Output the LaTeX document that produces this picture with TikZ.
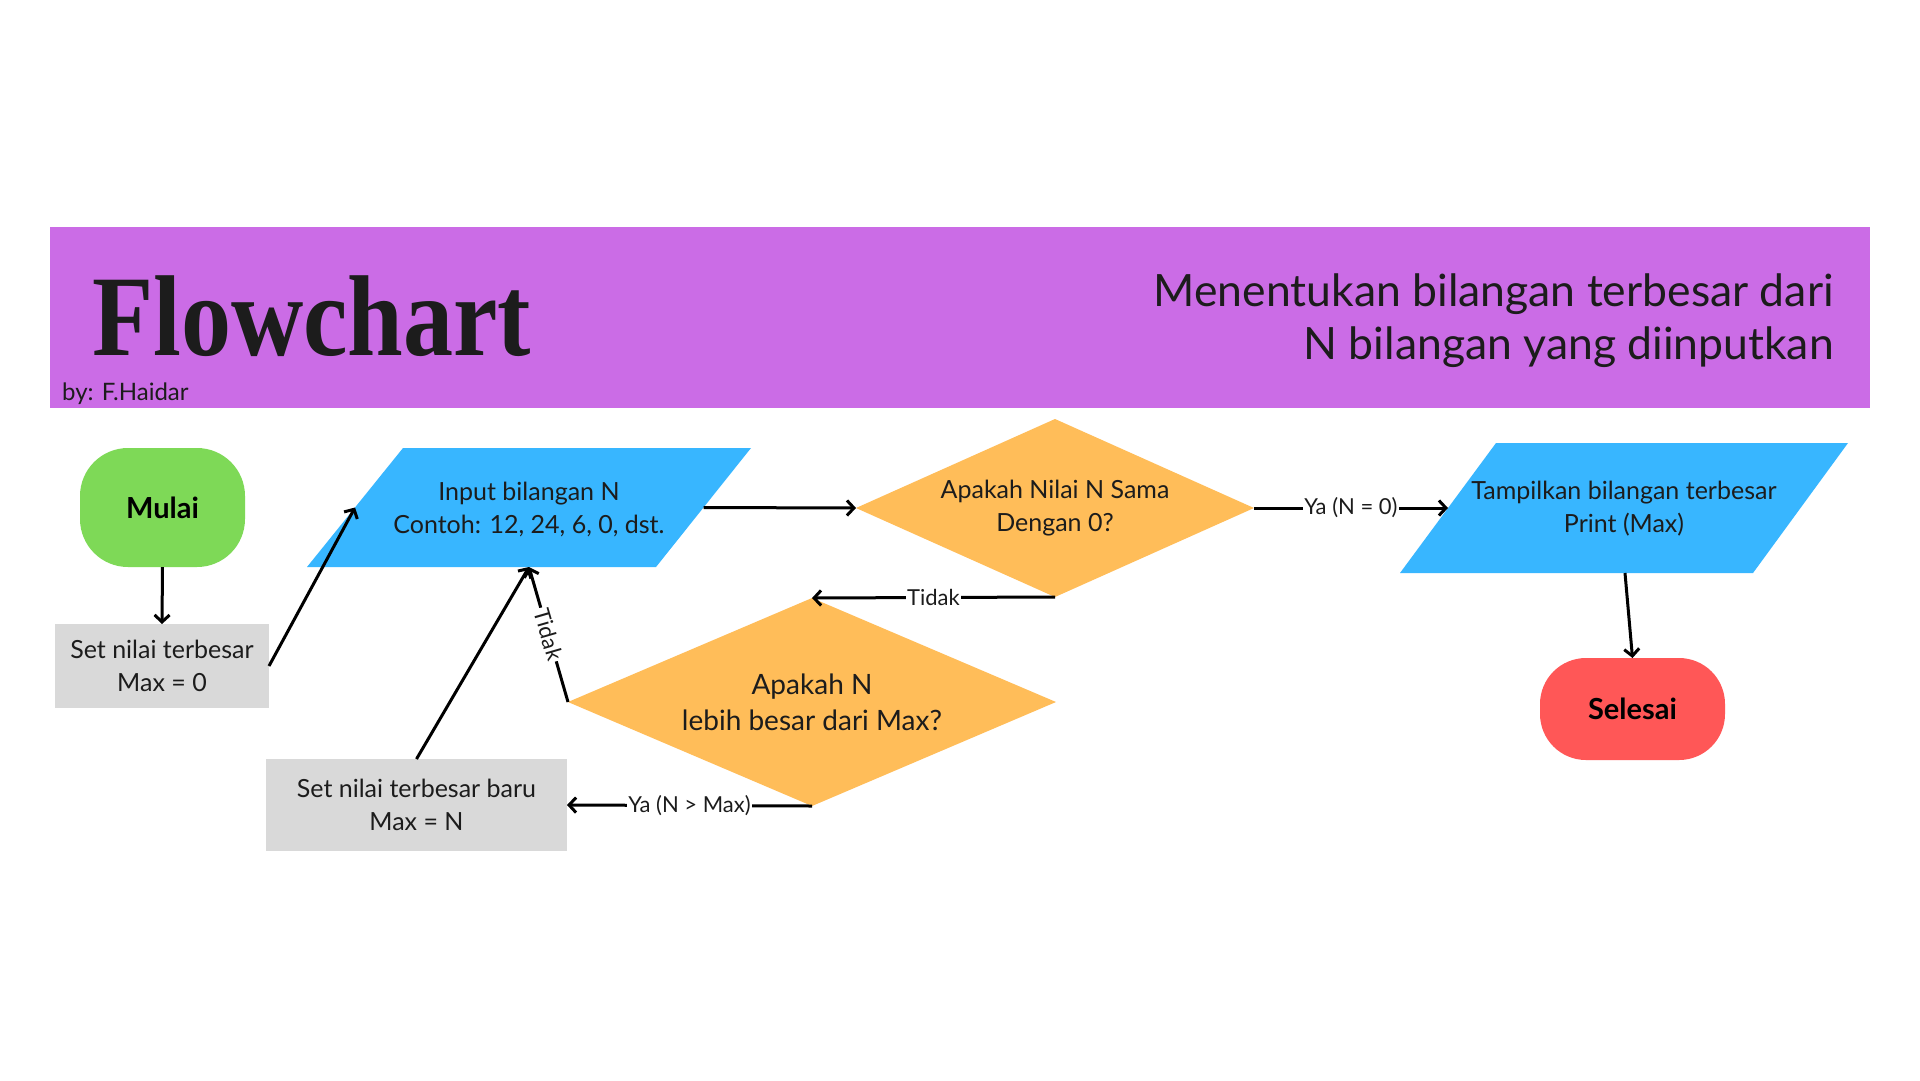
\documentclass[tikz,border=0pt]{standalone}
\usepackage{fontspec}
\usepackage{graphicx}
\setmainfont{Lato}
\newfontfamily\titlefont{Liberation Serif}
\usetikzlibrary{arrows.meta,shapes.geometric}
\definecolor{bannerc}{HTML}{CB6CE6}
\definecolor{greenc}{HTML}{7ED957}
\definecolor{bluec}{HTML}{38B6FF}
\definecolor{orangec}{HTML}{FFBD59}
\definecolor{redc}{HTML}{FF5757}
\definecolor{grayc}{HTML}{D9D9D9}
\definecolor{inkc}{HTML}{1C1C1C}
\begin{document}
\begin{tikzpicture}[x=1pt,y=-1pt,
  body/.style={font=\fontsize{25}{33}\selectfont, text=inkc, align=center},
  conn/.style={line width=3pt, draw=black, -{Straight Barb[length=7pt,width=15pt]}},
  lbl/.style={fill=white, inner sep=1.5pt, font=\fontsize{22}{26}\selectfont, text=inkc},
  term/.style={rectangle, rounded corners=48pt, inner sep=0pt, outer sep=0pt, font=\fontsize{29}{32}\selectfont\bfseries, text=black},
  procbox/.style={rectangle, fill=grayc, inner sep=0pt, outer sep=0pt, body},
  decision/.style={diamond, fill=orangec, inner sep=0pt, outer sep=0pt, body}
]
\useasboundingbox (0,0) rectangle (1920,1080);
\fill[white] (0,0) rectangle (1920,1080);

% banner
\fill[bannerc] (50,227) rectangle (1870,408);
\node[anchor=base west, inner sep=0pt, text=inkc] (title) at (92,355)
  {\scalebox{0.87}[1]{\fontsize{115}{120}\selectfont\titlefont\bfseries Flowchart}};
\node[anchor=west, inner sep=0pt, text=inkc, font=\fontsize{24}{28}\selectfont] (author) at (62,394) {by: F.Haidar};
\node[anchor=base east, inner sep=0pt, text=inkc, font=\fontsize{44.5}{52}\selectfont] (sub1) at (1834,306) {Menentukan bilangan terbesar dari};
\node[anchor=base east, inner sep=0pt, text=inkc, font=\fontsize{44.5}{52}\selectfont] (sub2) at (1834,359) {N bilangan yang diinputkan};

% start
\node[term, fill=greenc, minimum width=165pt, minimum height=119pt] (mulai) at (162.5,507.5) {Mulai};
% set max = 0
\node[procbox, minimum width=214pt, minimum height=84pt] (set0) at (162,666) {Set nilai terbesar\\Max = 0};

% input parallelogram
\fill[bluec] (403,448) -- (751,448) -- (656,567) -- (307,567) -- cycle;
\node[body] (input) at (529,509) {Input bilangan N\\Contoh: 12, 24, 6, 0, dst.};
\coordinate (inL) at (355,507.5);
\coordinate (inR) at (703.5,507.5);
\coordinate (inB) at (529,567);

% decision 1
\node[decision, shape aspect=2.24, minimum width=398pt, minimum height=178pt] (d1) at (1055,508) {Apakah Nilai N Sama\\Dengan 0?};

% output parallelogram
\fill[bluec] (1496,443) -- (1848,443) -- (1753,573) -- (1400,573) -- cycle;
\node[body] (output) at (1624,509) {Tampilkan bilangan terbesar\\Print (Max)};
\coordinate (outL) at (1448,508);
\coordinate (outB) at (1625,573);

% end
\node[term, fill=redc, minimum width=185pt, minimum height=102pt, rounded corners=46pt] (selesai) at (1632.5,709) {Selesai};

% decision 2
\node[decision, shape aspect=2.35, minimum width=488pt, minimum height=208pt, font=\fontsize{28}{36}\selectfont] (d2) at (812,702) {Apakah N\\lebih besar dari Max?};

% set max = N
\node[procbox, minimum width=301pt, minimum height=92pt] (setn) at (416.5,805) {Set nilai terbesar baru\\Max = N};

% connectors
\draw[conn] (mulai.south) -- (set0.north);
\draw[conn] (set0.east) -- (inL);
\draw[conn] (inR) -- (d1.west);
\draw[conn] (d1.east) -- node[lbl, pos=0.5] {Ya (N = 0)} (outL);
\draw[conn] (outB) -- (selesai.north);
\draw[conn] (d1.south) -- node[lbl] {Tidak} (d2.north);
\draw[conn] (d2.west) -- node[lbl, sloped] {Tidak} (inB);
\draw[conn] (d2.south) -- node[lbl] {Ya (N > Max)} (setn.east);
\draw[conn] (setn.north) -- (inB);
\end{tikzpicture}
\end{document}
